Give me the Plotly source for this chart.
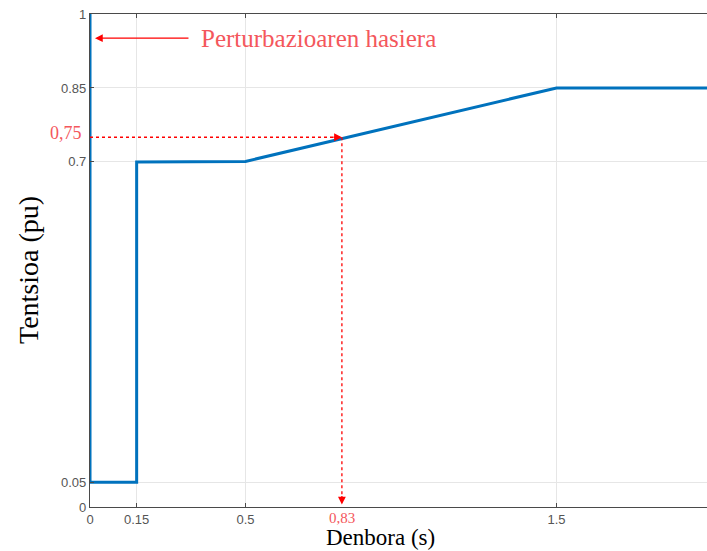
import plotly.graph_objects as go

# Data
time_s = [0, 0, 0.15, 0.15, 0.5, 1.5, 2.0]
voltage_pu = [1.0, 0.05, 0.05, 0.7, 0.701, 0.85, 0.85]
x_ticks = [0, 0.15, 0.5, 1.5]
x_ticklabels = ["0", "0.15", "0.5", "1.5"]
y_ticks = [0, 0.05, 0.7, 0.85, 1]
y_ticklabels = ["0", "0.05", "0.7", "0.85", "1"]
marker_x = 0.81
marker_x_label = "0,83"
marker_y = 0.75
marker_y_label = "0,75"
disturbance_label = "Perturbazioaren hasiera"
x_title = "Denbora (s)"
y_title = "Tentsioa (pu)"

RED = "#ff0000"
RED_TXT = "#f4575c"
SERIF = "Liberation Serif, Times New Roman, serif"
TICKFONT = dict(family="Liberation Sans, Arial", size=13, color="#555555")

fig = go.Figure()
fig.add_trace(go.Scatter(x=time_s, y=voltage_pu, mode="lines",
                         line=dict(color="#0072BD", width=3), showlegend=False,
                         hoverinfo="skip"))

# dotted guide lines
fig.add_shape(type="line", x0=0, x1=marker_x, y0=marker_y, y1=marker_y,
              line=dict(color=RED, width=1.3, dash="dot"), layer="above")
fig.add_shape(type="line", x0=marker_x, x1=marker_x, y0=marker_y, y1=0.01,
              line=dict(color=RED, width=1.3, dash="dot"), layer="above")

# arrowheads
fig.add_annotation(x=marker_x, y=marker_y, ax=-10, ay=0, text="", showarrow=True,
                   arrowhead=2, arrowsize=1.2, arrowwidth=1.3, arrowcolor=RED)
fig.add_annotation(x=marker_x, y=0.005, ax=0, ay=-10, text="", showarrow=True,
                   arrowhead=2, arrowsize=1.2, arrowwidth=1.3, arrowcolor=RED)

# disturbance arrow and label
fig.add_annotation(x=0.016, y=0.951, ax=95, ay=0, text="", showarrow=True,
                   arrowhead=2, arrowsize=1.2, arrowwidth=1.3, arrowcolor=RED)
fig.add_annotation(x=0.35, y=0.951, xanchor="left", yanchor="middle",
                   text=disturbance_label, showarrow=False,
                   font=dict(family=SERIF, size=25, color=RED_TXT))

# red value labels
fig.add_annotation(x=0, y=marker_y, xref="x", yref="y", xanchor="right",
                   yanchor="middle", xshift=-6, yshift=4, text=marker_y_label,
                   showarrow=False, font=dict(family=SERIF, size=18, color=RED_TXT))
fig.add_annotation(x=marker_x, y=0, xanchor="center", yanchor="top", yshift=-1,
                   text=marker_x_label, showarrow=False,
                   font=dict(family=SERIF, size=15, color=RED_TXT))

# axis titles
fig.add_annotation(x=380, y=537, xref="paper", yref="paper", text=x_title,
                   showarrow=False, borderpad=0,
                   font=dict(family=SERIF, size=23, color="black"))
fig.add_annotation(x=28, y=270, xref="paper", yref="paper", text=y_title, textangle=-90,
                   showarrow=False, font=dict(family=SERIF, size=28, color="black"))

fig.update_layout(
    width=707, height=551,
    margin=dict(l=90, r=0, t=14, b=44, autoexpand=False),
    plot_bgcolor="white", paper_bgcolor="white",
    xaxis=dict(range=[0, 1.984], tickvals=x_ticks, ticktext=x_ticklabels,
               showgrid=True, gridcolor="#e6e6e6", gridwidth=1,
               showline=True, linecolor="#4a4a4a", linewidth=1.2, mirror="ticks",
               ticks="inside", ticklen=4, tickcolor="#4a4a4a",
               tickfont=TICKFONT, zeroline=False, automargin=False),
    yaxis=dict(range=[0, 1], tickvals=y_ticks, ticktext=y_ticklabels,
               showgrid=True, gridcolor="#e6e6e6", gridwidth=1,
               showline=True, linecolor="#4a4a4a", linewidth=1.2,
               ticks="inside", ticklen=4, tickcolor="#4a4a4a",
               tickfont=TICKFONT, zeroline=False, automargin=False),
)

# convert pixel-positioned titles to paper coords
for ann in fig.layout.annotations:
    if ann.xref == "paper":
        ann.x = (ann.x - 90) / (707 - 90)
        ann.y = (551 - 44 - ann.y) / (551 - 44 - 14)
        ann.xanchor = "center"
        ann.yanchor = "middle"

fig.write_html("out.html", config={"displayModeBar": False},
               post_script="document.body.style.margin='0';document.body.style.overflow='hidden';")
